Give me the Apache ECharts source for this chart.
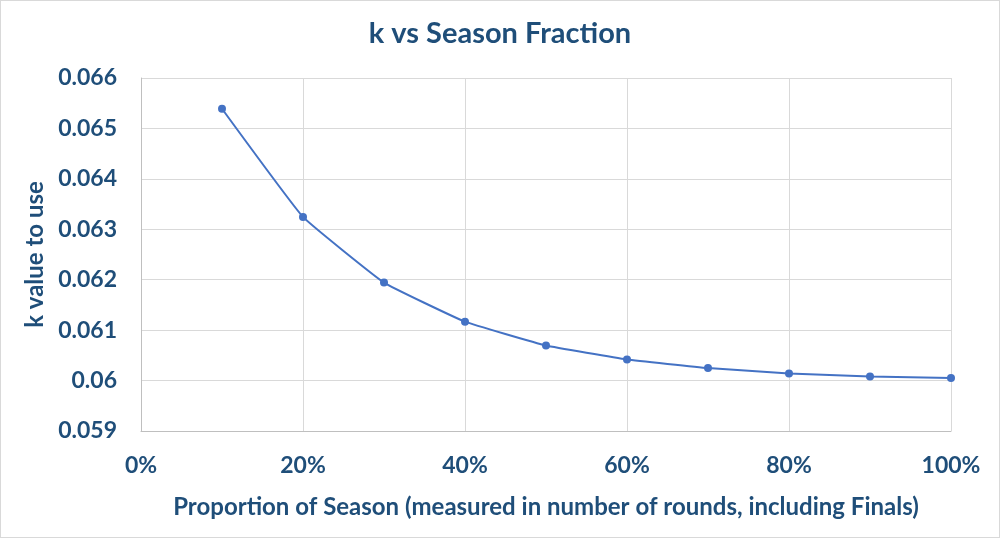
<!DOCTYPE html>
<html>
<head>
<meta charset="utf-8">
<script src="https://cdn.jsdelivr.net/npm/echarts@6/dist/echarts.min.js"></script>
<style>
  html, body { margin: 0; padding: 0; background: #fff; }
  #chart { width: 1000px; height: 538px; box-sizing: border-box; border: 1px solid #d9d9d9; }
</style>
</head>
<body>
<div id="chart"></div>
<script>
// season fraction (x) and k value (y)
const seasonFraction = [0.1, 0.2, 0.3, 0.4, 0.5, 0.6, 0.7, 0.8, 0.9, 1.0];
const kValues = [0.06539, 0.063245, 0.061943, 0.061168, 0.060694, 0.060418, 0.060247, 0.060142, 0.060083, 0.06005];

const titleText = 'k vs Season Fraction';
const xName = 'Proportion of Season (measured in number of rounds, including Finals)';
const yName = 'k value to use';

const textColor = '#1f4e79';
const font = 'Lato, "Open Sans", sans-serif';

const chart = echarts.init(document.getElementById('chart'));
chart.setOption({
  animation: false,
  title: {
    text: titleText,
    left: 'center',
    top: 13,
    textStyle: { color: textColor, fontSize: 29, fontWeight: 'bold', fontFamily: font },
  },
  grid: { left: 140, right: 48, top: 77, bottom: 106 },
  xAxis: {
    type: 'value',
    min: 0,
    max: 1,
    interval: 0.2,
    name: xName,
    nameLocation: 'middle',
    nameGap: 64,
    nameTextStyle: { color: textColor, fontSize: 24, fontWeight: 'bold', fontFamily: font },
    axisLine: { show: true, lineStyle: { color: '#bfbfbf' } },
    axisTick: { show: false },
    axisLabel: {
      color: textColor, fontSize: 23, fontWeight: 'bold', fontFamily: font, margin: 23,
      formatter: v => Math.round(v * 100) + '%',
    },
    splitLine: { show: true, lineStyle: { color: '#d9d9d9' } },
  },
  yAxis: {
    type: 'value',
    min: 0.059,
    max: 0.066,
    interval: 0.001,
    name: yName,
    nameLocation: 'middle',
    nameGap: 92,
    nameTextStyle: { color: textColor, fontSize: 24, fontWeight: 'bold', fontFamily: font },
    axisLine: { show: true, lineStyle: { color: '#bfbfbf' } },
    axisTick: { show: false },
    axisLabel: {
      color: textColor, fontSize: 23, fontWeight: 'bold', fontFamily: font, margin: 24,
      formatter: v => String(Number(v.toFixed(3))),
    },
    splitLine: { show: true, lineStyle: { color: '#d9d9d9' } },
  },
  series: [
    {
      type: 'line',
      data: seasonFraction.map((x, i) => [x, kValues[i]]),
      smooth: 0.1,
      symbol: 'circle',
      symbolSize: 8,
      lineStyle: { color: '#4472c4', width: 2 },
      itemStyle: { color: '#4472c4' },
    },
  ],
});
</script>
</body>
</html>
